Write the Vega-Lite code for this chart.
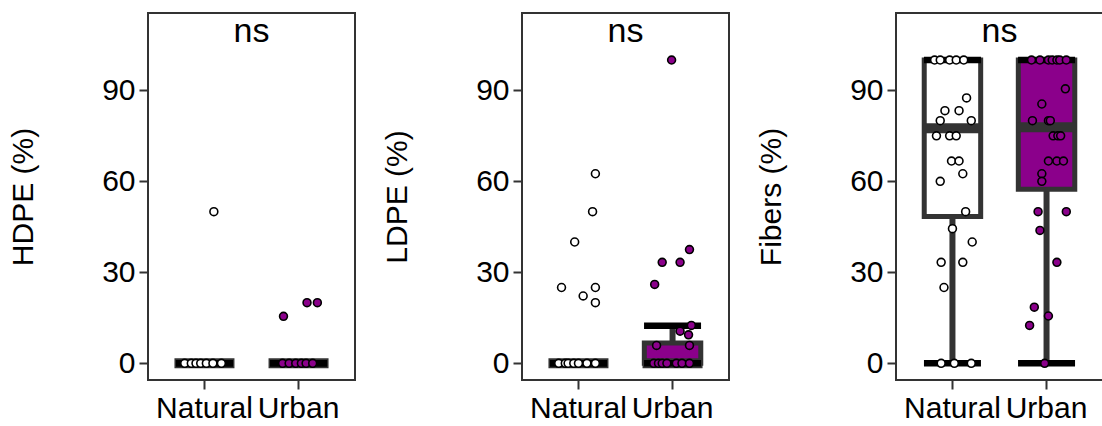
{
  "$schema": "https://vega.github.io/schema/vega-lite/v6.json",
  "padding": {"left": 7, "top": 12, "right": 0, "bottom": 0},
  "background": "white",
  "config": {
    "font": "Liberation Sans",
    "view": {"stroke": "#333333", "strokeWidth": 2},
    "axis": {"grid": false, "domain": false, "labelFont": "Liberation Sans", "labelFontSize": 30, "labelColor": "#000000", "tickColor": "#333333", "tickWidth": 2, "tickSize": 9, "labelPadding": 4, "titleFont": "Liberation Sans", "titleFontSize": 30, "titleFontWeight": "normal", "titleColor": "#000000"},
    "axisY": {"titlePadding": 63},
    "concat": {"spacing": 25}
  },
  "datasets": {
    "box": [
      {"panel": "HDPE", "group": "Natural", "lower": 0, "q1": 0, "median": 0, "q3": 0, "upper": 0},
      {"panel": "HDPE", "group": "Urban", "lower": 0, "q1": 0, "median": 0, "q3": 0, "upper": 0},
      {"panel": "LDPE", "group": "Natural", "lower": 0, "q1": 0, "median": 0, "q3": 0, "upper": 0},
      {"panel": "LDPE", "group": "Urban", "lower": 0, "q1": 0, "median": 0, "q3": 6.7, "upper": 12.4},
      {"panel": "Fibers", "group": "Natural", "lower": 0, "q1": 48.4, "median": 77.5, "q3": 100, "upper": 100},
      {"panel": "Fibers", "group": "Urban", "lower": 0, "q1": 57.4, "median": 77.8, "q3": 100, "upper": 100}
    ],
    "lab": [
      {"panel": "HDPE", "label": "ns", "pos": 1.5, "y": 106},
      {"panel": "LDPE", "label": "ns", "pos": 1.5, "y": 106},
      {"panel": "Fibers", "label": "ns", "pos": 1.5, "y": 106}
    ],
    "pts": [
      {"panel": "HDPE", "group": "Natural", "value": 50, "jit": 0.10},
      {"panel": "HDPE", "group": "Natural", "value": 0, "jit": -0.21},
      {"panel": "HDPE", "group": "Natural", "value": 0, "jit": -0.14},
      {"panel": "HDPE", "group": "Natural", "value": 0, "jit": -0.09},
      {"panel": "HDPE", "group": "Natural", "value": 0, "jit": -0.04},
      {"panel": "HDPE", "group": "Natural", "value": 0, "jit": 0.02},
      {"panel": "HDPE", "group": "Natural", "value": 0, "jit": 0.09},
      {"panel": "HDPE", "group": "Natural", "value": 0, "jit": 0.18},
      {"panel": "HDPE", "group": "Urban", "value": 15.5, "jit": -0.16},
      {"panel": "HDPE", "group": "Urban", "value": 20, "jit": 0.09},
      {"panel": "HDPE", "group": "Urban", "value": 20, "jit": 0.20},
      {"panel": "HDPE", "group": "Urban", "value": 0, "jit": -0.17},
      {"panel": "HDPE", "group": "Urban", "value": 0, "jit": -0.10},
      {"panel": "HDPE", "group": "Urban", "value": 0, "jit": -0.03},
      {"panel": "HDPE", "group": "Urban", "value": 0, "jit": 0.03},
      {"panel": "HDPE", "group": "Urban", "value": 0, "jit": 0.08},
      {"panel": "HDPE", "group": "Urban", "value": 0, "jit": 0.15},
      {"panel": "LDPE", "group": "Natural", "value": 62.5, "jit": 0.18},
      {"panel": "LDPE", "group": "Natural", "value": 50, "jit": 0.15},
      {"panel": "LDPE", "group": "Natural", "value": 40, "jit": -0.04},
      {"panel": "LDPE", "group": "Natural", "value": 25, "jit": -0.18},
      {"panel": "LDPE", "group": "Natural", "value": 25, "jit": 0.18},
      {"panel": "LDPE", "group": "Natural", "value": 22.2, "jit": 0.05},
      {"panel": "LDPE", "group": "Natural", "value": 20, "jit": 0.18},
      {"panel": "LDPE", "group": "Natural", "value": 0, "jit": -0.21},
      {"panel": "LDPE", "group": "Natural", "value": 0, "jit": -0.14},
      {"panel": "LDPE", "group": "Natural", "value": 0, "jit": -0.11},
      {"panel": "LDPE", "group": "Natural", "value": 0, "jit": -0.05},
      {"panel": "LDPE", "group": "Natural", "value": 0, "jit": 0.0},
      {"panel": "LDPE", "group": "Natural", "value": 0, "jit": 0.09},
      {"panel": "LDPE", "group": "Natural", "value": 0, "jit": 0.18},
      {"panel": "LDPE", "group": "Urban", "value": 100, "jit": -0.01},
      {"panel": "LDPE", "group": "Urban", "value": 37.5, "jit": 0.18},
      {"panel": "LDPE", "group": "Urban", "value": 33.3, "jit": -0.11},
      {"panel": "LDPE", "group": "Urban", "value": 33.3, "jit": 0.08},
      {"panel": "LDPE", "group": "Urban", "value": 26, "jit": -0.19},
      {"panel": "LDPE", "group": "Urban", "value": 12.5, "jit": 0.20},
      {"panel": "LDPE", "group": "Urban", "value": 10.6, "jit": 0.08},
      {"panel": "LDPE", "group": "Urban", "value": 9.4, "jit": 0.17},
      {"panel": "LDPE", "group": "Urban", "value": 5.9, "jit": -0.17},
      {"panel": "LDPE", "group": "Urban", "value": 5.9, "jit": 0.18},
      {"panel": "LDPE", "group": "Urban", "value": 0, "jit": -0.20},
      {"panel": "LDPE", "group": "Urban", "value": 0, "jit": -0.15},
      {"panel": "LDPE", "group": "Urban", "value": 0, "jit": -0.11},
      {"panel": "LDPE", "group": "Urban", "value": 0, "jit": -0.06},
      {"panel": "LDPE", "group": "Urban", "value": 0, "jit": 0.04},
      {"panel": "LDPE", "group": "Urban", "value": 0, "jit": 0.10},
      {"panel": "LDPE", "group": "Urban", "value": 0, "jit": 0.18},
      {"panel": "Fibers", "group": "Natural", "value": 100, "jit": -0.19},
      {"panel": "Fibers", "group": "Natural", "value": 100, "jit": -0.13},
      {"panel": "Fibers", "group": "Natural", "value": 100, "jit": -0.03},
      {"panel": "Fibers", "group": "Natural", "value": 100, "jit": 0.04},
      {"panel": "Fibers", "group": "Natural", "value": 100, "jit": 0.12},
      {"panel": "Fibers", "group": "Natural", "value": 87.5, "jit": 0.15},
      {"panel": "Fibers", "group": "Natural", "value": 83.3, "jit": -0.08},
      {"panel": "Fibers", "group": "Natural", "value": 83.3, "jit": 0.07},
      {"panel": "Fibers", "group": "Natural", "value": 80, "jit": -0.13},
      {"panel": "Fibers", "group": "Natural", "value": 80, "jit": 0.20},
      {"panel": "Fibers", "group": "Natural", "value": 75, "jit": -0.17},
      {"panel": "Fibers", "group": "Natural", "value": 75, "jit": -0.03},
      {"panel": "Fibers", "group": "Natural", "value": 75, "jit": 0.04},
      {"panel": "Fibers", "group": "Natural", "value": 66.7, "jit": -0.01},
      {"panel": "Fibers", "group": "Natural", "value": 66.7, "jit": 0.07},
      {"panel": "Fibers", "group": "Natural", "value": 62.5, "jit": 0.11},
      {"panel": "Fibers", "group": "Natural", "value": 60, "jit": -0.13},
      {"panel": "Fibers", "group": "Natural", "value": 50, "jit": 0.14},
      {"panel": "Fibers", "group": "Natural", "value": 44.4, "jit": 0.0},
      {"panel": "Fibers", "group": "Natural", "value": 40, "jit": 0.21},
      {"panel": "Fibers", "group": "Natural", "value": 33.3, "jit": -0.12},
      {"panel": "Fibers", "group": "Natural", "value": 33.3, "jit": 0.11},
      {"panel": "Fibers", "group": "Natural", "value": 25, "jit": -0.09},
      {"panel": "Fibers", "group": "Natural", "value": 0, "jit": -0.12},
      {"panel": "Fibers", "group": "Natural", "value": 0, "jit": 0.02},
      {"panel": "Fibers", "group": "Natural", "value": 0, "jit": 0.20},
      {"panel": "Fibers", "group": "Urban", "value": 100, "jit": -0.16},
      {"panel": "Fibers", "group": "Urban", "value": 100, "jit": -0.07},
      {"panel": "Fibers", "group": "Urban", "value": 100, "jit": 0.02},
      {"panel": "Fibers", "group": "Urban", "value": 100, "jit": 0.06},
      {"panel": "Fibers", "group": "Urban", "value": 100, "jit": 0.11},
      {"panel": "Fibers", "group": "Urban", "value": 100, "jit": 0.14},
      {"panel": "Fibers", "group": "Urban", "value": 100, "jit": 0.21},
      {"panel": "Fibers", "group": "Urban", "value": 90.5, "jit": 0.20},
      {"panel": "Fibers", "group": "Urban", "value": 85.5, "jit": -0.05},
      {"panel": "Fibers", "group": "Urban", "value": 80, "jit": -0.15},
      {"panel": "Fibers", "group": "Urban", "value": 80, "jit": 0.02},
      {"panel": "Fibers", "group": "Urban", "value": 80, "jit": 0.04},
      {"panel": "Fibers", "group": "Urban", "value": 75, "jit": 0.07},
      {"panel": "Fibers", "group": "Urban", "value": 75, "jit": 0.12},
      {"panel": "Fibers", "group": "Urban", "value": 75, "jit": 0.15},
      {"panel": "Fibers", "group": "Urban", "value": 66.7, "jit": 0.02},
      {"panel": "Fibers", "group": "Urban", "value": 66.7, "jit": 0.11},
      {"panel": "Fibers", "group": "Urban", "value": 66.7, "jit": 0.18},
      {"panel": "Fibers", "group": "Urban", "value": 62.5, "jit": -0.05},
      {"panel": "Fibers", "group": "Urban", "value": 60, "jit": -0.05},
      {"panel": "Fibers", "group": "Urban", "value": 50, "jit": -0.09},
      {"panel": "Fibers", "group": "Urban", "value": 50, "jit": 0.21},
      {"panel": "Fibers", "group": "Urban", "value": 43.8, "jit": -0.07},
      {"panel": "Fibers", "group": "Urban", "value": 33.3, "jit": 0.11},
      {"panel": "Fibers", "group": "Urban", "value": 18.5, "jit": -0.13},
      {"panel": "Fibers", "group": "Urban", "value": 15.6, "jit": 0.02},
      {"panel": "Fibers", "group": "Urban", "value": 12.5, "jit": -0.18},
      {"panel": "Fibers", "group": "Urban", "value": 0, "jit": -0.02}
    ]
  },
  "hconcat": [
    {
      "width": 207, "height": 367,
      "resolve": {"scale": {"x": "independent", "xOffset": "independent"}},
      "layer": [
        {"data": {"name": "box"}, "transform": [{"filter": "datum.panel === 'HDPE'"}],
         "mark": {"type": "rule", "color": "#333333", "strokeWidth": 6},
         "encoding": {
           "x": {"field": "group", "type": "nominal", "scale": {"type": "band", "domain": ["Natural", "Urban"], "paddingInner": 0.4, "paddingOuter": 0.3}, "axis": {"title": null, "labelAngle": 0}},
           "y": {"field": "lower", "type": "quantitative", "title": "HDPE (%)", "scale": {"domain": [-5.5, 115.5], "nice": false, "zero": false}, "axis": {"values": [0, 30, 60, 90]}},
           "y2": {"field": "upper"}}},
        {"data": {"name": "box"}, "transform": [{"filter": "datum.panel === 'HDPE'"}],
         "mark": {"type": "bar", "stroke": "#333333", "strokeWidth": 5, "width": {"band": 1}},
         "encoding": {
           "x": {"field": "group", "type": "nominal", "scale": {"type": "band", "domain": ["Natural", "Urban"], "paddingInner": 0.4, "paddingOuter": 0.3}, "axis": null},
           "y": {"field": "q1", "type": "quantitative", "title": "HDPE (%)"},
           "y2": {"field": "q3"},
           "fill": {"field": "group", "type": "nominal", "scale": {"domain": ["Natural", "Urban"], "range": ["#ffffff", "#8b008b"]}, "legend": null}}},
        {"data": {"name": "box"}, "transform": [{"filter": "datum.panel === 'HDPE'"}],
         "mark": {"type": "tick", "color": "#333333", "thickness": 10, "size": 60, "opacity": 1},
         "encoding": {"x": {"field": "group", "type": "nominal", "scale": {"type": "band", "domain": ["Natural", "Urban"], "paddingInner": 0.4, "paddingOuter": 0.3}, "axis": null}, "y": {"field": "median", "type": "quantitative", "title": "HDPE (%)"}}},
        {"data": {"name": "box"}, "transform": [{"filter": "datum.panel === 'HDPE'"}],
         "mark": {"type": "tick", "color": "#000000", "thickness": 6.5, "size": 57, "opacity": 1},
         "encoding": {"x": {"field": "group", "type": "nominal", "scale": {"type": "band", "domain": ["Natural", "Urban"], "paddingInner": 0.4, "paddingOuter": 0.3}, "axis": null}, "y": {"field": "lower", "type": "quantitative", "title": "HDPE (%)"}}},
        {"data": {"name": "box"}, "transform": [{"filter": "datum.panel === 'HDPE'"}],
         "mark": {"type": "tick", "color": "#000000", "thickness": 6.5, "size": 57, "opacity": 1},
         "encoding": {"x": {"field": "group", "type": "nominal", "scale": {"type": "band", "domain": ["Natural", "Urban"], "paddingInner": 0.4, "paddingOuter": 0.3}, "axis": null}, "y": {"field": "upper", "type": "quantitative", "title": "HDPE (%)"}}},
        {"data": {"name": "pts"}, "transform": [{"filter": "datum.panel === 'HDPE'"}],
         "mark": {"type": "circle", "stroke": "#000000", "strokeWidth": 1.6, "size": 62, "opacity": 1},
         "encoding": {
           "x": {"field": "group", "type": "nominal", "scale": {"type": "band", "domain": ["Natural", "Urban"], "paddingInner": 0.4, "paddingOuter": 0.3}, "axis": null},
           "xOffset": {"field": "jit", "type": "quantitative", "scale": {"domain": [-0.3, 0.3], "nice": false, "zero": false}},
           "y": {"field": "value", "type": "quantitative", "title": "HDPE (%)"},
           "fill": {"field": "group", "type": "nominal"}}},
        {"data": {"name": "lab"}, "transform": [{"filter": "datum.panel === 'HDPE'"}],
         "mark": {"type": "text", "fontSize": 34, "baseline": "alphabetic", "align": "center", "font": "Liberation Sans", "color": "#000000"},
         "encoding": {
           "x": {"field": "pos", "type": "quantitative", "scale": {"domain": [0.4, 2.6], "nice": false, "zero": false}, "axis": null},
           "y": {"field": "y", "type": "quantitative", "title": "HDPE (%)"},
           "text": {"field": "label"}}}
      ]
    },
    {
      "width": 207, "height": 367,
      "resolve": {"scale": {"x": "independent", "xOffset": "independent"}},
      "layer": [
        {"data": {"name": "box"}, "transform": [{"filter": "datum.panel === 'LDPE'"}],
         "mark": {"type": "rule", "color": "#333333", "strokeWidth": 6},
         "encoding": {
           "x": {"field": "group", "type": "nominal", "scale": {"type": "band", "domain": ["Natural", "Urban"], "paddingInner": 0.4, "paddingOuter": 0.3}, "axis": {"title": null, "labelAngle": 0}},
           "y": {"field": "lower", "type": "quantitative", "title": "LDPE (%)", "scale": {"domain": [-5.5, 115.5], "nice": false, "zero": false}, "axis": {"values": [0, 30, 60, 90]}},
           "y2": {"field": "upper"}}},
        {"data": {"name": "box"}, "transform": [{"filter": "datum.panel === 'LDPE'"}],
         "mark": {"type": "bar", "stroke": "#333333", "strokeWidth": 5, "width": {"band": 1}},
         "encoding": {
           "x": {"field": "group", "type": "nominal", "scale": {"type": "band", "domain": ["Natural", "Urban"], "paddingInner": 0.4, "paddingOuter": 0.3}, "axis": null},
           "y": {"field": "q1", "type": "quantitative", "title": "LDPE (%)"},
           "y2": {"field": "q3"},
           "fill": {"field": "group", "type": "nominal", "scale": {"domain": ["Natural", "Urban"], "range": ["#ffffff", "#8b008b"]}, "legend": null}}},
        {"data": {"name": "box"}, "transform": [{"filter": "datum.panel === 'LDPE'"}],
         "mark": {"type": "tick", "color": "#333333", "thickness": 10, "size": 60, "opacity": 1},
         "encoding": {"x": {"field": "group", "type": "nominal", "scale": {"type": "band", "domain": ["Natural", "Urban"], "paddingInner": 0.4, "paddingOuter": 0.3}, "axis": null}, "y": {"field": "median", "type": "quantitative", "title": "LDPE (%)"}}},
        {"data": {"name": "box"}, "transform": [{"filter": "datum.panel === 'LDPE'"}],
         "mark": {"type": "tick", "color": "#000000", "thickness": 6.5, "size": 57, "opacity": 1},
         "encoding": {"x": {"field": "group", "type": "nominal", "scale": {"type": "band", "domain": ["Natural", "Urban"], "paddingInner": 0.4, "paddingOuter": 0.3}, "axis": null}, "y": {"field": "lower", "type": "quantitative", "title": "LDPE (%)"}}},
        {"data": {"name": "box"}, "transform": [{"filter": "datum.panel === 'LDPE'"}],
         "mark": {"type": "tick", "color": "#000000", "thickness": 6.5, "size": 57, "opacity": 1},
         "encoding": {"x": {"field": "group", "type": "nominal", "scale": {"type": "band", "domain": ["Natural", "Urban"], "paddingInner": 0.4, "paddingOuter": 0.3}, "axis": null}, "y": {"field": "upper", "type": "quantitative", "title": "LDPE (%)"}}},
        {"data": {"name": "pts"}, "transform": [{"filter": "datum.panel === 'LDPE'"}],
         "mark": {"type": "circle", "stroke": "#000000", "strokeWidth": 1.6, "size": 62, "opacity": 1},
         "encoding": {
           "x": {"field": "group", "type": "nominal", "scale": {"type": "band", "domain": ["Natural", "Urban"], "paddingInner": 0.4, "paddingOuter": 0.3}, "axis": null},
           "xOffset": {"field": "jit", "type": "quantitative", "scale": {"domain": [-0.3, 0.3], "nice": false, "zero": false}},
           "y": {"field": "value", "type": "quantitative", "title": "LDPE (%)"},
           "fill": {"field": "group", "type": "nominal"}}},
        {"data": {"name": "lab"}, "transform": [{"filter": "datum.panel === 'LDPE'"}],
         "mark": {"type": "text", "fontSize": 34, "baseline": "alphabetic", "align": "center", "font": "Liberation Sans", "color": "#000000"},
         "encoding": {
           "x": {"field": "pos", "type": "quantitative", "scale": {"domain": [0.4, 2.6], "nice": false, "zero": false}, "axis": null},
           "y": {"field": "y", "type": "quantitative", "title": "LDPE (%)"},
           "text": {"field": "label"}}}
      ]
    },
    {
      "width": 207, "height": 367,
      "resolve": {"scale": {"x": "independent", "xOffset": "independent"}},
      "layer": [
        {"data": {"name": "box"}, "transform": [{"filter": "datum.panel === 'Fibers'"}],
         "mark": {"type": "rule", "color": "#333333", "strokeWidth": 6},
         "encoding": {
           "x": {"field": "group", "type": "nominal", "scale": {"type": "band", "domain": ["Natural", "Urban"], "paddingInner": 0.4, "paddingOuter": 0.3}, "axis": {"title": null, "labelAngle": 0}},
           "y": {"field": "lower", "type": "quantitative", "title": "Fibers (%)", "scale": {"domain": [-5.5, 115.5], "nice": false, "zero": false}, "axis": {"values": [0, 30, 60, 90]}},
           "y2": {"field": "upper"}}},
        {"data": {"name": "box"}, "transform": [{"filter": "datum.panel === 'Fibers'"}],
         "mark": {"type": "bar", "stroke": "#333333", "strokeWidth": 5, "width": {"band": 1}},
         "encoding": {
           "x": {"field": "group", "type": "nominal", "scale": {"type": "band", "domain": ["Natural", "Urban"], "paddingInner": 0.4, "paddingOuter": 0.3}, "axis": null},
           "y": {"field": "q1", "type": "quantitative", "title": "Fibers (%)"},
           "y2": {"field": "q3"},
           "fill": {"field": "group", "type": "nominal", "scale": {"domain": ["Natural", "Urban"], "range": ["#ffffff", "#8b008b"]}, "legend": null}}},
        {"data": {"name": "box"}, "transform": [{"filter": "datum.panel === 'Fibers'"}],
         "mark": {"type": "tick", "color": "#333333", "thickness": 10, "size": 60, "opacity": 1},
         "encoding": {"x": {"field": "group", "type": "nominal", "scale": {"type": "band", "domain": ["Natural", "Urban"], "paddingInner": 0.4, "paddingOuter": 0.3}, "axis": null}, "y": {"field": "median", "type": "quantitative", "title": "Fibers (%)"}}},
        {"data": {"name": "box"}, "transform": [{"filter": "datum.panel === 'Fibers'"}],
         "mark": {"type": "tick", "color": "#000000", "thickness": 6.5, "size": 57, "opacity": 1},
         "encoding": {"x": {"field": "group", "type": "nominal", "scale": {"type": "band", "domain": ["Natural", "Urban"], "paddingInner": 0.4, "paddingOuter": 0.3}, "axis": null}, "y": {"field": "lower", "type": "quantitative", "title": "Fibers (%)"}}},
        {"data": {"name": "box"}, "transform": [{"filter": "datum.panel === 'Fibers'"}],
         "mark": {"type": "tick", "color": "#000000", "thickness": 6.5, "size": 57, "opacity": 1},
         "encoding": {"x": {"field": "group", "type": "nominal", "scale": {"type": "band", "domain": ["Natural", "Urban"], "paddingInner": 0.4, "paddingOuter": 0.3}, "axis": null}, "y": {"field": "upper", "type": "quantitative", "title": "Fibers (%)"}}},
        {"data": {"name": "pts"}, "transform": [{"filter": "datum.panel === 'Fibers'"}],
         "mark": {"type": "circle", "stroke": "#000000", "strokeWidth": 1.6, "size": 62, "opacity": 1},
         "encoding": {
           "x": {"field": "group", "type": "nominal", "scale": {"type": "band", "domain": ["Natural", "Urban"], "paddingInner": 0.4, "paddingOuter": 0.3}, "axis": null},
           "xOffset": {"field": "jit", "type": "quantitative", "scale": {"domain": [-0.3, 0.3], "nice": false, "zero": false}},
           "y": {"field": "value", "type": "quantitative", "title": "Fibers (%)"},
           "fill": {"field": "group", "type": "nominal"}}},
        {"data": {"name": "lab"}, "transform": [{"filter": "datum.panel === 'Fibers'"}],
         "mark": {"type": "text", "fontSize": 34, "baseline": "alphabetic", "align": "center", "font": "Liberation Sans", "color": "#000000"},
         "encoding": {
           "x": {"field": "pos", "type": "quantitative", "scale": {"domain": [0.4, 2.6], "nice": false, "zero": false}, "axis": null},
           "y": {"field": "y", "type": "quantitative", "title": "Fibers (%)"},
           "text": {"field": "label"}}}
      ]
    }
  ]
}
